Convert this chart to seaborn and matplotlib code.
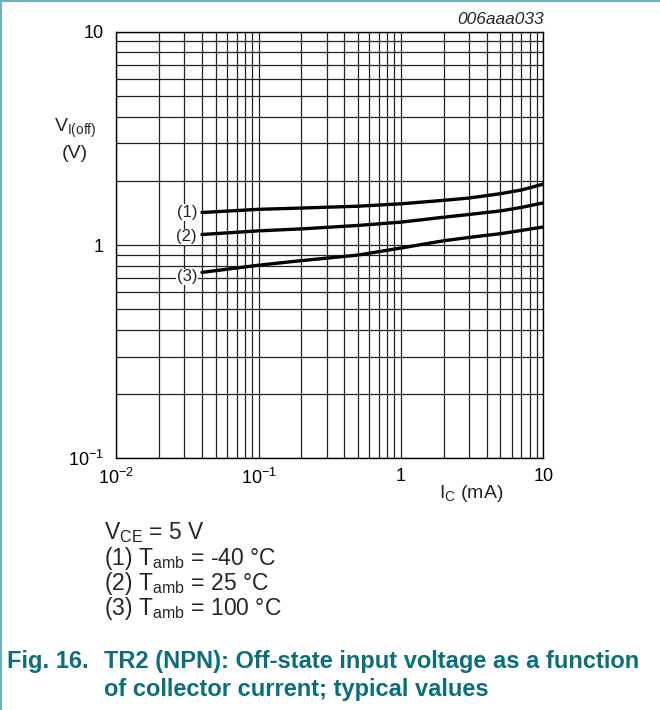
import numpy as np
import pandas as pd
import matplotlib
matplotlib.use("Agg")
import matplotlib.pyplot as plt
import seaborn as sns

# Collector current (mA) and off-state input voltage (V) for each temperature
ic_ma = [0.04, 0.1, 0.2, 0.5, 1.0, 2.0, 3.0, 5.0, 7.0, 10.0]
v_off_m40 = [1.42, 1.47, 1.49, 1.52, 1.56, 1.62, 1.66, 1.74, 1.81, 1.93]
v_off_25 = [1.12, 1.165, 1.19, 1.235, 1.28, 1.35, 1.39, 1.445, 1.50, 1.575]
v_off_100 = [0.744, 0.804, 0.845, 0.897, 0.968, 1.047, 1.085, 1.13, 1.17, 1.215]
curve_ids = ["(1)", "(2)", "(3)"]

x_ticks = [0.01, 0.1, 1, 10]
x_ticklabels = [r"$10^{-2}$", r"$10^{-1}$", "1", "10"]
y_ticks = [0.1, 1, 10]
y_ticklabels = [r"$10^{-1}$", "1", "10"]

df = pd.concat([
    pd.DataFrame({"ic": ic_ma, "v": v_off_m40, "curve": curve_ids[0]}),
    pd.DataFrame({"ic": ic_ma, "v": v_off_25, "curve": curve_ids[1]}),
    pd.DataFrame({"ic": ic_ma, "v": v_off_100, "curve": curve_ids[2]}),
])

sns.set_style("white")
plt.rcParams["font.family"] = ["Liberation Sans", "DejaVu Sans"]
plt.rcParams["mathtext.fontset"] = "custom"
plt.rcParams["mathtext.rm"] = "Liberation Sans"
plt.rcParams["mathtext.it"] = "Liberation Sans:italic"
plt.rcParams["mathtext.bf"] = "Liberation Sans:bold"

W, H = 660, 710
fig = plt.figure(figsize=(W / 100, H / 100), dpi=100)
ax = fig.add_axes([116.3 / W, 1 - 458.3 / H, (543.3 - 116.3) / W, (458.3 - 31.7) / H])

sns.lineplot(data=df, x="ic", y="v", units="curve", estimator=None,
             color="black", linewidth=2.4, ax=ax, legend=False, sort=False)

ax.set_xscale("log")
ax.set_yscale("log")
ax.set_xlim(0.01, 10)
ax.set_ylim(0.1, 10)
ax.grid(True, which="both", color="#222222", linewidth=0.9)
ax.set_axisbelow(True)
for s in ax.spines.values():
    s.set_color("black")
    s.set_linewidth(1.0)
ax.set_xticks(x_ticks)
ax.set_xticklabels(x_ticklabels)
ax.set_yticks(y_ticks)
ax.set_yticklabels(y_ticklabels)
ax.tick_params(which="both", length=0, labelsize=13, colors="black")
ax.tick_params(axis="x", pad=7)
ax.tick_params(axis="y", pad=9)
ax.set_xlabel("")
ax.set_ylabel("")

# Curve identifiers, masking the grid behind them
label_v = [1.42, 1.094, 0.71]
for cid, v in zip(curve_ids, label_v):
    ax.text(0.0369, v, cid, ha="right", va="center", fontsize=12,
            bbox=dict(facecolor="white", edgecolor="none", pad=0.5))

def ftext(x, y, s, **kw):
    fig.text(x / W, 1 - y / H, s, **kw)

ftext(544, 19, "006aaa033", ha="right", va="center", fontsize=12.5, style="italic")
ftext(75, 128, r"V$_{\mathrm{I(off)}}$", ha="center", va="center", fontsize=14)
ftext(75, 154, "(V)", ha="center", va="center", fontsize=14)
ftext(471, 494, r"I$_{\mathrm{C}}$ (mA)", ha="center", va="center", fontsize=14)

notes = [r"V$_{\mathrm{CE}}$ = 5 V",
         r"(1) T$_{\mathrm{amb}}$ = -40 °C",
         r"(2) T$_{\mathrm{amb}}$ = 25 °C",
         r"(3) T$_{\mathrm{amb}}$ = 100 °C"]
for i, t in enumerate(notes):
    ftext(104, 539 + 25.5 * i, t, ha="left", va="baseline", fontsize=16.5)

teal = "#0b6f7b"
cap_kw = dict(ha="left", va="baseline", fontsize=17, fontweight="bold", color=teal)
ftext(7, 668, "Fig. 16.", **cap_kw)
ftext(104, 668, "TR2 (NPN): Off-state input voltage as a function", **cap_kw)
ftext(104, 696, "of collector current; typical values", **cap_kw)

# Page frame on the left and top edges
border = "#6fb1b9"
fig.add_artist(plt.Line2D([1 / W, 1 / W], [0, 1], color=border, lw=1.5))
fig.add_artist(plt.Line2D([0, 1], [1 - 1 / H, 1 - 1 / H], color=border, lw=1.5))

fig.savefig("out.png", dpi=100, facecolor="white")
